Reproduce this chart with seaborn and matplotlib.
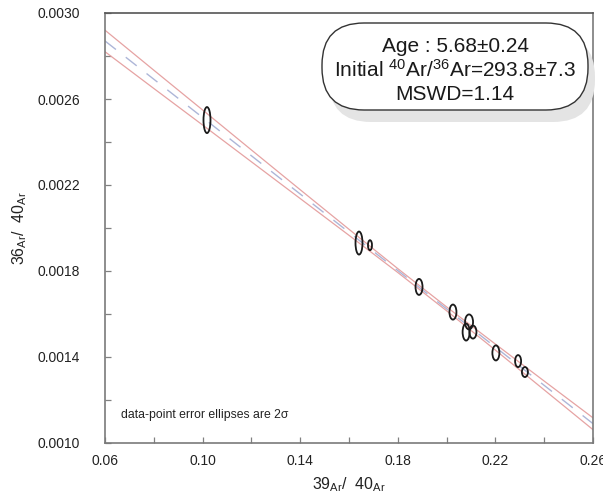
import numpy as np
import pandas as pd
import seaborn as sns
import matplotlib
matplotlib.use("Agg")
import matplotlib.pyplot as plt
from matplotlib.patches import Ellipse, FancyBboxPatch
from matplotlib.ticker import FixedLocator, FixedFormatter

# ---- data ----
x39_40 = [0.1018, 0.1641, 0.1686, 0.1887, 0.2026, 0.2092, 0.2080, 0.2108, 0.2202, 0.2293, 0.2321]
y36_40 = [0.002502, 0.00193, 0.00192, 0.001726, 0.001609, 0.001563, 0.001516, 0.001516, 0.001419, 0.001381, 0.00133]
ell_w = [0.00287, 0.00287, 0.00164, 0.00287, 0.00287, 0.00328, 0.00287, 0.00287, 0.00287, 0.00246, 0.00246]
ell_h = [0.000121, 0.000107, 0.0000465, 0.0000744, 0.00007, 0.00007, 0.000079, 0.0000605, 0.00007, 0.0000558, 0.0000465]

fit_x = [0.06, 0.26]
fit_y = [0.002870, 0.001090]

env_x = [0.06, 0.08, 0.10, 0.12, 0.14, 0.16, 0.18, 0.20, 0.22, 0.24, 0.26]
env_upper = [0.002920, 0.002734, 0.002549, 0.002363, 0.002178, 0.001994, 0.001811, 0.001633, 0.001460, 0.001288, 0.001117]
env_lower = [0.002820, 0.002649, 0.002479, 0.002308, 0.002137, 0.001966, 0.001793, 0.001615, 0.001432, 0.001247, 0.001062]

x_major = [0.06, 0.10, 0.14, 0.18, 0.22, 0.26]
x_major_labels = ["0.06", "0.10", "0.14", "0.18", "0.22", "0.26"]
x_minor = [0.08, 0.12, 0.16, 0.20, 0.24]
y_major = [0.0010, 0.0014, 0.0018, 0.0022, 0.0026, 0.0030]
y_major_labels = ["0.0010", "0.0014", "0.0018", "0.0022", "0.0026", "0.0030"]
y_minor = [0.0012, 0.0016, 0.0020, 0.0024, 0.0028]

age_text = "Age : 5.68\u00b10.24"
init_text = "Initial $^{40}$Ar/$^{36}$Ar=293.8\u00b17.3"
mswd_text = "MSWD=1.14"
note_text = "data-point error ellipses are 2\u03c3"

# ---- style ----
sns.set_theme(style="white")
plt.rcParams["font.family"] = ["Liberation Sans", "DejaVu Sans"]
plt.rcParams["mathtext.fontset"] = "custom"
plt.rcParams["mathtext.rm"] = "Liberation Sans"
plt.rcParams["mathtext.it"] = "Liberation Sans:italic"
plt.rcParams["mathtext.bf"] = "Liberation Sans:bold"

fig = plt.figure(figsize=(6.03, 4.94), dpi=100)
ax = fig.add_axes([105 / 603, 1 - 443 / 494, 488 / 603, 430 / 494])

env_df = pd.DataFrame({"x": env_x, "upper": env_upper, "lower": env_lower})
fit_df = pd.DataFrame({"x": fit_x, "y": fit_y})

sns.lineplot(data=env_df, x="x", y="upper", ax=ax, color="#e6a3a3", lw=0.9)
sns.lineplot(data=env_df, x="x", y="lower", ax=ax, color="#e6a3a3", lw=0.9)
sns.lineplot(data=fit_df, x="x", y="y", ax=ax, color="#adb6d8", lw=1.0,
             linestyle=(0, (10, 9)))

for xc, yc, w, h in zip(x39_40, y36_40, ell_w, ell_h):
    ax.add_patch(Ellipse((xc, yc), w, h, fill=False, edgecolor="#1a1a1a", lw=1.3, zorder=5))

ax.set_xlim(0.06, 0.26)
ax.set_ylim(0.0010, 0.0030)
ax.xaxis.set_major_locator(FixedLocator(x_major))
ax.xaxis.set_major_formatter(FixedFormatter(x_major_labels))
ax.xaxis.set_minor_locator(FixedLocator(x_minor))
ax.yaxis.set_major_locator(FixedLocator(y_major))
ax.yaxis.set_major_formatter(FixedFormatter(y_major_labels))
ax.yaxis.set_minor_locator(FixedLocator(y_minor))

ax.tick_params(which="both", direction="in", color="#808080", width=0.9, length=4,
               bottom=True, left=True, top=False, right=False)
ax.tick_params(axis="x", labelsize=10, pad=8, labelcolor="#222222")
ax.tick_params(axis="y", labelsize=10, pad=18, labelcolor="#222222")

for side, sp in ax.spines.items():
    sp.set_color("#7a7a7a")
    sp.set_linewidth(1.2)
ax.spines["top"].set_color("#555555")

ax.set_xlabel(r"$\mathregular{39_{Ar}/\ \ 40_{Ar}}$", fontsize=11.5, color="#222222")
ax.set_ylabel(r"$\mathregular{36_{Ar}/\ \ 40_{Ar}}$", fontsize=11.5, color="#222222")
ax.xaxis.set_label_coords(0.5, -0.074)
ax.yaxis.set_label_coords(-0.155, 0.5)

ax.text(0.032, 0.065, note_text, transform=ax.transAxes, fontsize=8.8,
        color="#222222", ha="left", va="center")

# rounded result box with shadow (figure inches)
tr = fig.dpi_scale_trans
bx0, by0, bw, bh = 3.22, (494 - 110) / 100, 2.66, 0.87
shadow = FancyBboxPatch((bx0 + 0.07, by0 - 0.12), bw, bh,
                        boxstyle="round,pad=0,rounding_size=0.42",
                        transform=tr, facecolor="#e4e4e4", edgecolor="none", zorder=8)
box = FancyBboxPatch((bx0, by0), bw, bh,
                     boxstyle="round,pad=0,rounding_size=0.42",
                     transform=tr, facecolor="white", edgecolor="#333333", lw=1.0, zorder=9)
fig.patches.extend([shadow, box])

cx = bx0 + bw / 2
for txt, ypx in [(age_text, 47), (init_text, 70), (mswd_text, 94)]:
    fig.text(cx / 6.03, 1 - ypx / 494, txt, ha="center", va="center", fontsize=15,
             color="#1a1a1a", zorder=10)

fig.savefig("out.png", dpi=100)
